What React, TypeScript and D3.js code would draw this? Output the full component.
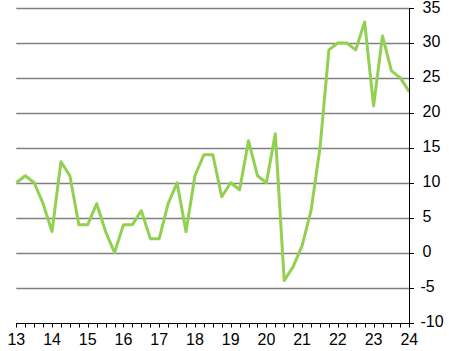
import React from "react";
import * as d3 from "d3";

const years = [13, 14, 15, 16, 17, 18, 19, 20, 21, 22, 23, 24];
const yTicks = [-10, -5, 0, 5, 10, 15, 20, 25, 30, 35];
// quarterly values starting at 13 (first point on the 13 tick)
const values = [
  10, 11, 10, 7, 3, 13, 11, 4, 4, 7,
  3, 0, 4, 4, 6, 2, 2, 7, 10, 3,
  11, 14, 14, 8, 10, 9, 16, 11, 10, 17,
  -4, -2, 1, 6, 15, 29, 30, 30, 29, 33,
  21, 31, 26, 25, 23,
];

const W = 449;
const H = 351;
const left = 16.3;
const right = 409.3;
const top = 8;
const bottom = 322.5;

export default function App() {
  const x = d3.scaleLinear().domain([13, 24]).range([left, right]);
  const y = d3.scaleLinear().domain([-10, 35]).range([bottom, top]);
  const pts = values.map((v, i) => [x(13 + i / 4), y(v)] as [number, number]);
  const line = d3.line();
  const quarters = d3.range(0, 45).map((i) => 13 + i / 4);
  const font = "'Liberation Sans', Arial, sans-serif";

  return (
    <svg
      width={W}
      height={H}
      style={{ position: "absolute", left: 0, top: 0, background: "#fff" }}
    >
      {yTicks
        .filter((t) => t > -10)
        .map((t) => (
          <line
            key={"g" + t}
            x1={left}
            x2={right}
            y1={Math.round(y(t)) + 0.5}
            y2={Math.round(y(t)) + 0.5}
            stroke="#808080"
            strokeWidth={1.3}
          />
        ))}
      <path
        d={line(pts) || ""}
        fill="none"
        stroke="#92D050"
        strokeWidth={3}
        strokeLinejoin="round"
      />
      {/* x axis */}
      <line x1={left} x2={right} y1={Math.round(bottom) + 0.5} y2={Math.round(bottom) + 0.5} stroke="#000" strokeWidth={1} />
      {quarters.map((q) => (
        <line
          key={"q" + q}
          x1={Math.round(x(q)) + 0.5}
          x2={Math.round(x(q)) + 0.5}
          y1={Math.round(bottom)}
          y2={Math.round(bottom) + 4.5}
          stroke="#000"
          strokeWidth={1}
        />
      ))}
      {years.map((yr) => (
        <text
          key={"yl" + yr}
          x={x(yr)}
          y={345}
          textAnchor="middle"
          fontFamily={font}
          fontSize={16}
          fill="#000"
        >
          {yr}
        </text>
      ))}
      {/* right y axis */}
      <line x1={Math.round(right) + 0.5} x2={Math.round(right) + 0.5} y1={top} y2={Math.round(bottom) + 1} stroke="#000" strokeWidth={1} />
      {yTicks.map((t) => (
        <g key={"yt" + t}>
          <line
            x1={Math.round(right)}
            x2={Math.round(right) + 5}
            y1={Math.round(y(t)) + 0.5}
            y2={Math.round(y(t)) + 0.5}
            stroke="#000"
            strokeWidth={1}
          />
          <text
            x={t < 0 ? 420.5 : 422.5}
            y={y(t) + 4.5}
            textAnchor="start"
            fontFamily={font}
            fontSize={16}
            fill="#000"
          >
            {t}
          </text>
        </g>
      ))}
    </svg>
  );
}
